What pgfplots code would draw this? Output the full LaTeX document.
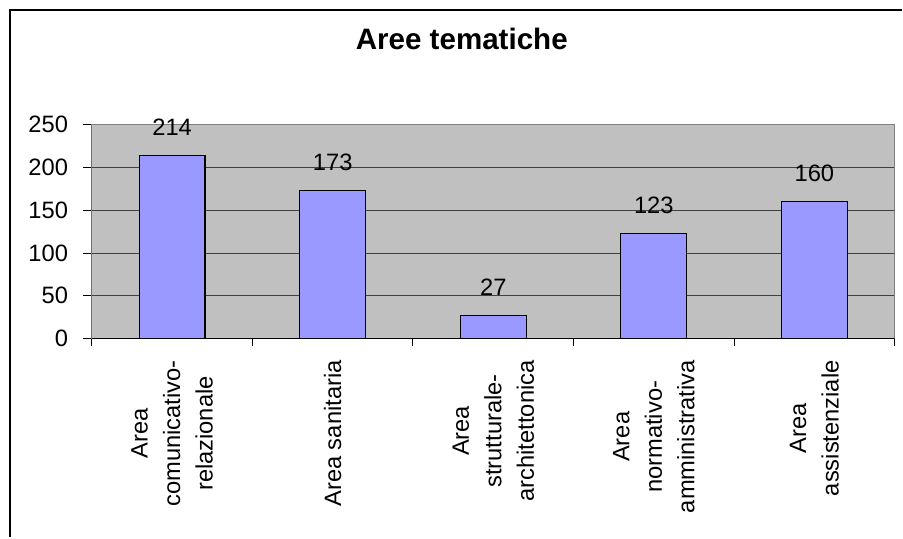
\documentclass[border=0pt]{standalone}
\usepackage{fontspec}
\setmainfont{Liberation Sans}
\usepackage{pgfplots}
\pgfplotsset{compat=1.18}
\definecolor{plotgray}{HTML}{C0C0C0}
\definecolor{barblue}{HTML}{9999FF}
\definecolor{edgegray}{HTML}{808080}
\begin{document}
\begin{tikzpicture}
\path (-69pt,-149.25pt) rectangle (608.25pt,254.25pt);
\draw[line width=2pt] (-61.5pt,-149.25pt) -- (-61.5pt,246.75pt) -- (608.25pt,246.75pt);
\begin{axis}[
  at={(0,0)}, anchor=south west,
  scale only axis, width=603pt, height=160.5pt,
  xmin=-0.5, xmax=4.5, ymin=0, ymax=250,
  ytick={0,50,...,250},
  xtick={0,1,2,3,4},
  xticklabels={{Area\\comunicativo-\\relazionale},{Area sanitaria},{Area\\strutturale-\\architettonica},{Area\\normativo-\\amministrativa},{Area\\assistenziale}},
  xtick style={draw=none},
  extra x ticks={-0.5,0.5,1.5,2.5,3.5,4.5},
  extra x tick labels={},
  extra x tick style={major tick length=5.5pt, xtick style={draw=black, line width=0.75pt}, grid=none},
  tick align=outside, tick pos=left,
  major tick length=6.75pt,
  ytick style={draw=black, line width=0.75pt},
  ymajorgrids, grid style={black!75, line width=0.75pt},
  axis line style={draw=edgegray, line width=0.9pt},
  axis background/.style={fill=plotgray},
  /pgf/number format/assume math mode=true,
  yticklabel style={font=\fontsize{17.8}{20}\selectfont, inner sep=0pt, xshift=-11pt},
  xticklabel style={yshift=-9.5pt, rotate=90, anchor=east, align=center, inner sep=0pt, font=\fontsize{17.8}{24.4}\selectfont},
  title={Aree tematiche},
  title style={font=\fontsize{22.2}{24}\selectfont\bfseries, anchor=base, at={(axis description cs:0.4608,1.3131)}, inner sep=0pt},
  ybar, bar width=49.5pt,
  nodes near coords,
  every node near coord/.append style={font=\fontsize{17.8}{20}\selectfont, anchor=base, yshift=15pt, inner sep=0pt, text=black},
]
\addplot[fill=barblue, draw=black, line width=0.9pt] coordinates {(0,214) (1,173) (2,27) (3,123) (4,160)};
\draw[black, line width=0.9pt] (rel axis cs:0,1) -- (rel axis cs:0,0) -- (rel axis cs:1,0);
\end{axis}
\end{tikzpicture}
\end{document}
